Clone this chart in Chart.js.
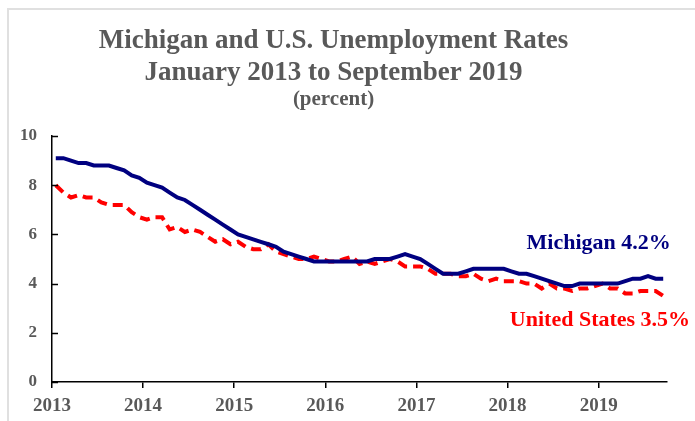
<!DOCTYPE html>
<html>
<head>
<meta charset="utf-8">
<script src="https://cdn.jsdelivr.net/npm/chart.js@4.4.0/dist/chart.umd.min.js"></script>
<style>
    body { margin: 0; background: #ffffff; }
</style>
</head>
<body>
<canvas id="GraficoDesemprego" width="695" height="421"></canvas>
<script>
/* Dados mensais, janeiro 2013 a setembro 2019 */
var anos = ['2013', '2014', '2015', '2016', '2017', '2018', '2019'];
var mesesAno = [0, 12, 24, 36, 48, 60, 72];

var michigan = [
    9.1, 9.1, 9.0, 8.9, 8.9, 8.8, 8.8, 8.8, 8.7, 8.6, 8.4, 8.3,
    8.1, 8.0, 7.9, 7.7, 7.5, 7.4, 7.2, 7.0, 6.8, 6.6, 6.4, 6.2,
    6.0, 5.9, 5.8, 5.7, 5.6, 5.5, 5.3, 5.2, 5.1, 5.0, 4.9, 4.9,
    4.9, 4.9, 4.9, 4.9, 4.9, 4.9, 5.0, 5.0, 5.0, 5.1, 5.2, 5.1,
    5.0, 4.8, 4.6, 4.4, 4.4, 4.4, 4.5, 4.6, 4.6, 4.6, 4.6, 4.6,
    4.5, 4.4, 4.4, 4.3, 4.2, 4.1, 4.0, 3.9, 3.9, 4.0, 4.0, 4.0,
    4.0, 4.0, 4.0, 4.1, 4.2, 4.2, 4.3, 4.2, 4.2
];

var estadosUnidos = [
    8.0, 7.7, 7.5, 7.6, 7.5, 7.5, 7.3, 7.2, 7.2, 7.2, 6.9, 6.7,
    6.6, 6.7, 6.7, 6.2, 6.3, 6.1, 6.2, 6.1, 5.9, 5.7, 5.8, 5.6,
    5.7, 5.5, 5.4, 5.4, 5.6, 5.3, 5.2, 5.1, 5.0, 5.0, 5.1, 5.0,
    4.9, 4.9, 5.0, 5.1, 4.8, 4.9, 4.8, 4.9, 5.0, 4.9, 4.7, 4.7,
    4.7, 4.6, 4.4, 4.4, 4.4, 4.3, 4.3, 4.4, 4.2, 4.1, 4.2, 4.1,
    4.1, 4.1, 4.0, 4.0, 3.8, 4.0, 3.8, 3.8, 3.7, 3.8, 3.8, 3.9,
    4.0, 3.8, 3.8, 3.6, 3.6, 3.7, 3.7, 3.7, 3.5
];

var rotulos = [
    { texto: 'Michigan 4.2%', cor: '#000080', x: 62.5, y: 5.65 },
    { texto: 'United States 3.5%', cor: '#ff0000', x: 60.3, y: 2.52 }
];

var cinza = '#595959';
var fonte = '"Liberation Serif", "Times New Roman", serif';

function PegarPontos(valores) {
    return valores.map(function (v, i) { return { x: i + 0.5, y: v }; });
}

/* Moldura cinza clara do quadro */
var moldura = {
    id: 'moldura',
    beforeDraw: function (chart) {
        var ctx = chart.ctx;
        ctx.save();
        ctx.fillStyle = '#e0e0e0';
        ctx.fillRect(7, 8, 2, 421);
        ctx.fillRect(7, 8, 695, 2);
        ctx.restore();
    }
};

/* Marcas do eixo y para dentro + rótulos das séries */
var extras = {
    id: 'extras',
    afterDraw: function (chart) {
        var ctx = chart.ctx;
        var sx = chart.scales.x;
        var sy = chart.scales.y;
        ctx.save();
        ctx.strokeStyle = '#000000';
        ctx.lineWidth = 1.5;
        sy.ticks.forEach(function (t) {
            var py = Math.round(sy.getPixelForValue(t.value)) + 0.5;
            ctx.beginPath();
            ctx.moveTo(sx.left, py);
            ctx.lineTo(sx.left + 6, py);
            ctx.stroke();
        });
        ctx.font = 'bold 22px ' + fonte;
        ctx.textBaseline = 'middle';
        ctx.textAlign = 'left';
        rotulos.forEach(function (r) {
            ctx.fillStyle = r.cor;
            ctx.fillText(r.texto, sx.getPixelForValue(r.x), sy.getPixelForValue(r.y));
        });
        ctx.restore();
    }
};

var ctx = document.getElementById('GraficoDesemprego').getContext('2d');

var grafico = new Chart(ctx, {
    type: 'line',
    data: {
        datasets: [{
            label: 'Michigan',
            data: PegarPontos(michigan),
            borderColor: '#000080',
            borderWidth: 4,
            pointRadius: 0,
            tension: 0,
            fill: false
        }, {
            label: 'United States',
            data: PegarPontos(estadosUnidos),
            borderColor: '#ff0000',
            borderWidth: 4,
            borderDash: [10, 6],
            pointRadius: 0,
            tension: 0,
            fill: false
        }]
    },
    options: {
        responsive: false,
        animation: false,
        devicePixelRatio: 1,
        layout: { padding: { left: 0, right: 28, top: 0, bottom: 0 } },
        plugins: {
            legend: { display: false },
            tooltip: { enabled: false },
            title: {
                display: true,
                text: ['Michigan and U.S. Unemployment Rates', 'January 2013 to September 2019'],
                color: cinza,
                font: { family: fonte, size: 27, weight: 'bold', lineHeight: '32px' },
                padding: { top: 25, bottom: 0 }
            },
            subtitle: {
                display: true,
                text: '(percent)',
                color: cinza,
                font: { family: fonte, size: 21, weight: 'bold', lineHeight: '22px' },
                padding: { top: 0, bottom: 25 }
            }
        },
        scales: {
            x: {
                type: 'linear',
                min: 0,
                max: 81,
                afterBuildTicks: function (scale) {
                    scale.ticks = mesesAno.map(function (m) { return { value: m }; });
                },
                afterFit: function (scale) { scale.height = 39; },
                ticks: {
                    color: cinza,
                    font: { family: fonte, size: 19, weight: 'bold' },
                    padding: 7,
                    maxRotation: 0,
                    callback: function (v) { return anos[mesesAno.indexOf(v)]; }
                },
                grid: { drawOnChartArea: false, drawTicks: true, tickLength: 6, color: '#000000', lineWidth: 1.5 },
                border: { display: true, color: '#000000', width: 1.5 }
            },
            y: {
                min: 0,
                max: 10,
                ticks: {
                    stepSize: 2,
                    color: cinza,
                    font: { family: fonte, size: 17, weight: 'bold' },
                    padding: 15
                },
                afterFit: function (scale) { scale.width = 52; },
                grid: { drawOnChartArea: false, drawTicks: false },
                border: { display: true, color: '#000000', width: 1.5 }
            }
        }
    },
    plugins: [moldura, extras]
});
</script>
</body>
</html>
